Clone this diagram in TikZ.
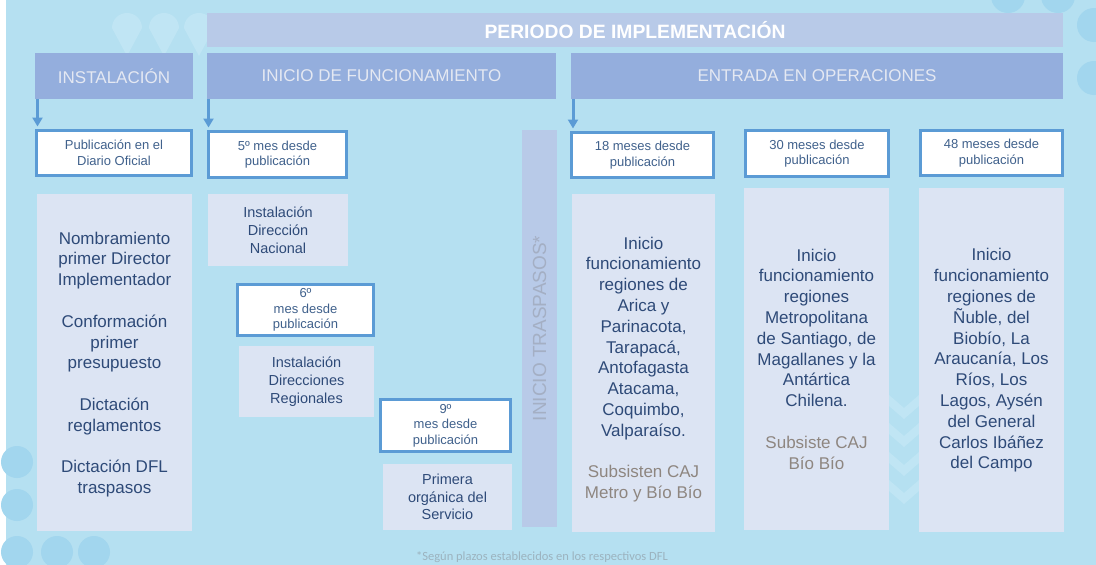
\documentclass[tikz,border=0pt]{standalone}
\usepackage{fontspec}
\setmainfont{Liberation Sans}
\newfontfamily\calib{Carlito}
\usetikzlibrary{arrows.meta}
\definecolor{bgc}{HTML}{B5E0F1}
\definecolor{bgdark}{HTML}{A2D6EE}
\definecolor{bglight}{HTML}{C0E5F4}
\definecolor{hdrc}{HTML}{94AEDD}
\definecolor{perc}{HTML}{B8CAE8}
\definecolor{hdrtext}{HTML}{E4E8F2}
\definecolor{bord}{HTML}{5B9BD5}
\definecolor{lightbox}{HTML}{DCE4F3}
\definecolor{btext}{HTML}{2E4A78}
\definecolor{wtext}{HTML}{40618C}
\definecolor{graytext}{HTML}{8E8680}
\definecolor{vtext}{HTML}{A4AFC4}
\definecolor{foot}{HTML}{9CB3BF}
\tikzset{
  hdr/.style={fill=hdrc, text=hdrtext, inner sep=0pt, outer sep=0pt, font=\fontsize{17}{20}\selectfont},
  wbox/.style={draw=bord, line width=3pt, fill=white, text=wtext, inner sep=0pt, outer sep=0pt, align=center, font=\fontsize{13}{15.5}\selectfont},
  lbox/.style={fill=lightbox, inner sep=0pt, outer sep=0pt},
  bigtext/.style={text=btext, align=center, inner sep=0pt, font=\fontsize{17}{20.8}\selectfont},
  smalltext/.style={text=btext, align=center, inner sep=0pt, font=\fontsize{14.5}{17.8}\selectfont},
  arr/.style={draw=bord, line width=3pt, -{Triangle[width=10pt,length=9pt]}, shorten >=4pt},
  chev/.style={fill=bglight}
}
\begin{document}
\begin{tikzpicture}[x=1pt,y=-1pt]
\useasboundingbox (0,0) rectangle (1096,565);
\clip (0,0) rectangle (1096,565);
\fill[white] (0,0) rectangle (6,565);
\fill[bgc] (6,0) rectangle (1096,565);
% decorations
\foreach \cx in {127,164,199}{
  \fill[bglight] (\cx-15,28) arc[start angle=180, end angle=360, radius=15] -- (\cx,56) -- cycle;
}
\foreach \cx/\cy in {1094/25,1094/78,1008/-4,1058/-4}{
  \fill[bgdark] (\cx,\cy) circle[radius=17];
}
\foreach \cx/\cy in {17/462,17/505,17/552,57/552,94/552}{
  \fill[bgdark] (\cx,\cy) circle[radius=16];
}
\foreach \yy in {395,423,452,480}{
  \fill[chev] (889,\yy) -- (904,\yy+13) -- (919,\yy) -- (919,\yy+11) -- (904,\yy+24) -- (889,\yy+11) -- cycle;
}
% header bars
\node[fill=perc, text=white, inner sep=0pt, outer sep=0pt, minimum width=856pt, minimum height=34pt, anchor=north west, font=\fontsize{19.3}{22}\selectfont\bfseries] (per) at (207,13) {PERIODO DE IMPLEMENTACIÓN};
\node[hdr, minimum width=158pt, minimum height=46pt, anchor=north west] (inst) at (35,53) {INSTALACIÓN};
\node[hdr, minimum width=349pt, minimum height=46pt, anchor=north west] (func) at (207,53) {INICIO DE FUNCIONAMIENTO};
\node[hdr, minimum width=492pt, minimum height=46pt, anchor=north west] (oper) at (571,53) {ENTRADA EN OPERACIONES};
% white boxes
\node[wbox, minimum width=155pt, minimum height=45pt] (pub) at (114,153) {Publicación en el\\Diario Oficial};
\node[wbox, minimum width=138pt, minimum height=46pt] (m5) at (277.5,154.5) {5º mes desde\\publicación};
\node[wbox, minimum width=136pt, minimum height=51pt] (m6) at (305.5,310) {6º\\mes desde\\publicación};
\node[wbox, minimum width=130pt, minimum height=52pt] (m9) at (445.5,425.5) {9º\\mes desde\\publicación};
\node[wbox, minimum width=142pt, minimum height=45pt] (m18) at (642.5,155) {18 meses desde\\publicación};
\node[wbox, minimum width=143pt, minimum height=46pt] (m30) at (817,153.5) {30 meses desde\\publicación};
\node[wbox, minimum width=142pt, minimum height=45pt] (m48) at (991.5,153) {48 meses desde\\publicación};
% arrows
\draw[arr] ([xshift=2.5pt]inst.south west) -- ([xshift=2.5pt]inst.south west |- pub.north);
\draw[arr] ([xshift=1.5pt]func.south west) -- ([xshift=1.5pt]func.south west |- m5.north);
\draw[arr] ([xshift=2pt]oper.south west) -- ([xshift=2pt]oper.south west |- m18.north);
% light boxes
\node[lbox, minimum width=155pt, minimum height=337pt] (c1) at (114.5,362.5) {};
\node[lbox, minimum width=140pt, minimum height=72pt] (dn) at (278,230) {};
\node[lbox, minimum width=135pt, minimum height=71pt] (dr) at (306.5,381.5) {};
\node[lbox, minimum width=129pt, minimum height=66pt] (po) at (447.5,497) {};
\node[fill=perc, inner sep=0pt, outer sep=0pt, minimum width=35pt, minimum height=397pt] (vbar) at (539.5,328.5) {};
\node[lbox, minimum width=143pt, minimum height=338pt] (c18) at (643.5,363) {};
\node[lbox, minimum width=145pt, minimum height=342pt] (c30) at (816.5,359) {};
\node[lbox, minimum width=145pt, minimum height=344pt] (c48) at (991.5,360) {};
% texts
\node[bigtext] (t1) at (114.5,364.5) {Nombramiento\\primer Director\\Implementador\\[20.8pt]Conformación\\primer\\presupuesto\\[20.8pt]Dictación\\reglamentos\\[20.8pt]Dictación DFL\\traspasos};
\node[smalltext] (tdn) at (dn.center) {Instalación\\Dirección\\Nacional};
\node[smalltext] (tdr) at (dr.center) {Instalación\\Direcciones\\Regionales};
\node[smalltext] (tpo) at (po.center) {Primera\\orgánica del\\Servicio};
\node[rotate=90, text=vtext, inner sep=0pt, font=\fontsize{19}{22}\selectfont] (tv) at (vbar.center) {INICIO TRASPASOS*};
\node[bigtext] (t18) at (643.5,369.5) {Inicio\\funcionamiento\\regiones de\\Arica y\\Parinacota,\\Tarapacá,\\Antofagasta\\Atacama,\\Coquimbo,\\Valparaíso.\\[20.8pt]\textcolor{graytext}{Subsisten CAJ}\\\textcolor{graytext}{Metro y Bío Bío}};
\node[bigtext] (t30) at (816.5,359) {Inicio\\funcionamiento\\regiones\\Metropolitana\\de Santiago, de\\Magallanes y la\\Antártica\\Chilena.\\[20.8pt]\textcolor{graytext}{Subsiste CAJ}\\\textcolor{graytext}{Bío Bío}};
\node[bigtext] (t48) at (991.5,360.5) {Inicio\\funcionamiento\\regiones de\\Ñuble, del\\Biobío, La\\Araucanía, Los\\Ríos, Los\\Lagos, Aysén\\del General\\Carlos Ibáñez\\del Campo};
\node[text=foot, inner sep=0pt, font=\calib\fontsize{12.5}{15}\selectfont] (fn) at (542,557) {*Según plazos establecidos en los respectivos DFL};
\end{tikzpicture}
\end{document}
